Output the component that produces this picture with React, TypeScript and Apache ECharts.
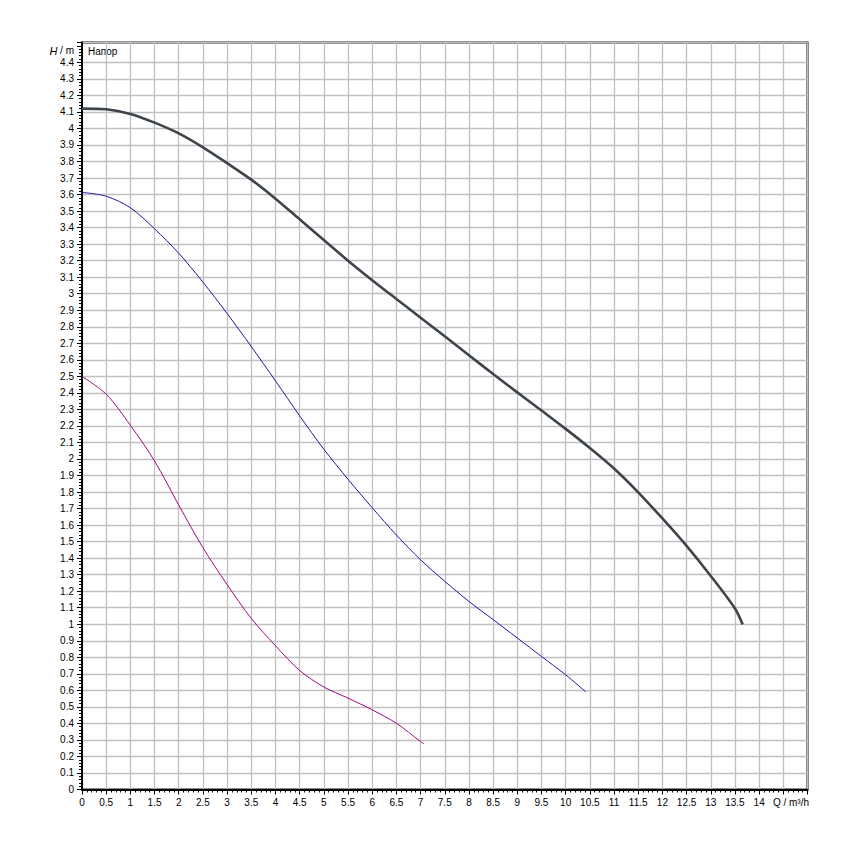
import React, { useEffect, useRef } from "react";
import * as echarts from "echarts";

const curve1Q = [0, 0.5, 1, 1.5, 2, 2.5, 3, 3.5, 4, 4.5, 5, 5.5, 6, 6.5, 7, 7.5, 8, 8.5, 9, 9.5, 10, 10.5, 11, 11.5, 12, 12.5, 13, 13.5, 13.66];
const curve1H = [4.12, 4.116, 4.088, 4.035, 3.97, 3.886, 3.79, 3.69, 3.575, 3.45, 3.325, 3.2, 3.082, 2.968, 2.855, 2.742, 2.628, 2.514, 2.403, 2.293, 2.182, 2.066, 1.942, 1.798, 1.64, 1.474, 1.292, 1.095, 0.998];

const curve2Q = [0, 0.5, 1, 1.5, 2, 2.5, 3, 3.5, 4, 4.5, 5, 5.5, 6, 6.5, 7, 7.5, 8, 8.5, 9, 9.5, 10, 10.415];
const curve2H = [3.613, 3.59, 3.52, 3.393, 3.245, 3.07, 2.88, 2.68, 2.473, 2.261, 2.059, 1.877, 1.705, 1.54, 1.39, 1.26, 1.138, 1.028, 0.917, 0.805, 0.694, 0.591];

const curve3Q = [0, 0.5, 1, 1.5, 2, 2.5, 3, 3.5, 4, 4.5, 5, 5.5, 6, 6.5, 7, 7.07];
const curve3H = [2.5, 2.392, 2.204, 1.988, 1.721, 1.463, 1.24, 1.035, 0.87, 0.72, 0.62, 0.553, 0.482, 0.401, 0.29, 0.276];

const xMax = 15;
const yMax = 4.52;
const xLabelLimit = 14;
const yLabelLimit = 4.4;

const zip = (xs: number[], ys: number[]) => xs.map((x, i) => [x, ys[i]]);

const FONT = "'Liberation Sans', Arial, sans-serif";

export default function App() {
  const ref = useRef<HTMLDivElement>(null);
  useEffect(() => {
    if (!ref.current) return;
    const chart = echarts.init(ref.current, null, { renderer: "svg" });
    // y split line colours: hide the line at 4.5
    const yLineColors: string[] = [];
    for (let i = 0; i <= 46; i++) yLineColors.push(i === 45 ? "rgba(0,0,0,0)" : "#c0c0c0");
    chart.setOption({
      animation: false,
      backgroundColor: "#ffffff",
      grid: {
        left: 82,
        right: 42.5,
        top: 42.5,
        bottom: 60.5,
        show: true,
        borderColor: "#000",
        borderWidth: 2,
        backgroundColor: "#fff",
      },
      xAxis: {
        type: "value",
        min: 0,
        max: xMax,
        interval: 0.5,
        axisLine: { show: true, lineStyle: { color: "#000", width: 2 } },
        axisTick: { show: true, length: 5, lineStyle: { color: "#000", width: 1 } },
        minorTick: { show: true, splitNumber: 5, length: 3, lineStyle: { color: "#000", width: 1 } },
        splitLine: { show: true, lineStyle: { color: "#c0c0c0", width: 1.3 } },
        axisLabel: {
          color: "#000",
          fontFamily: FONT,
          fontSize: 10,
          margin: 8,
          showMaxLabel: false,
          formatter: (v: number) => (v > xLabelLimit ? "" : String(Math.round(v * 10) / 10)),
        },
      },
      yAxis: {
        type: "value",
        min: 0,
        max: yMax,
        interval: 0.1,
        axisLine: { show: true, lineStyle: { color: "#000", width: 2 } },
        axisTick: { show: true, length: 5, lineStyle: { color: "#000", width: 1 } },
        minorTick: { show: true, splitNumber: 5, length: 3, lineStyle: { color: "#000", width: 1 } },
        splitLine: { show: true, lineStyle: { color: yLineColors, width: 1.3 } },
        axisLabel: {
          color: "#000",
          fontFamily: FONT,
          fontSize: 10,
          margin: 8,
          formatter: (v: number) => (v > yLabelLimit + 1e-6 ? "" : String(Math.round(v * 10) / 10)),
        },
      },
      series: [
        {
          type: "line",
          data: zip(curve1Q, curve1H),
          showSymbol: false,
          smooth: 0.3,
          lineStyle: { color: "#3d444b", width: 2.6 },
          z: 5,
        },
        {
          type: "line",
          data: zip(curve2Q, curve2H),
          showSymbol: false,
          smooth: 0.3,
          lineStyle: { color: "#2b10a3", width: 1 },
          z: 4,
        },
        {
          type: "line",
          data: zip(curve3Q, curve3H),
          showSymbol: false,
          smooth: 0.3,
          lineStyle: { color: "#9a0a82", width: 1 },
          z: 4,
        },
      ],
      graphic: [
        {
          type: "text",
          right: 850 - 74,
          top: 45,
          style: {
            text: "{i|H} / m",
            fill: "#000",
            font: `10px ${FONT}`,
            rich: {
              i: { fontStyle: "italic", fontSize: 11, fontFamily: FONT, fill: "#000" },
            },
          },
        },
        {
          type: "text",
          left: 88,
          top: 46,
          style: { text: "Напор", fill: "#000", font: `10px ${FONT}` },
        },
        {
          type: "text",
          right: 850 - 809,
          top: 797,
          style: { text: "Q / m³/h", fill: "#000", font: `10px ${FONT}` },
        },
      ],
    });
    return () => chart.dispose();
  }, []);
  return (
    <div
      ref={ref}
      style={{ position: "absolute", left: 0, top: 0, width: 850, height: 850 }}
    />
  );
}
